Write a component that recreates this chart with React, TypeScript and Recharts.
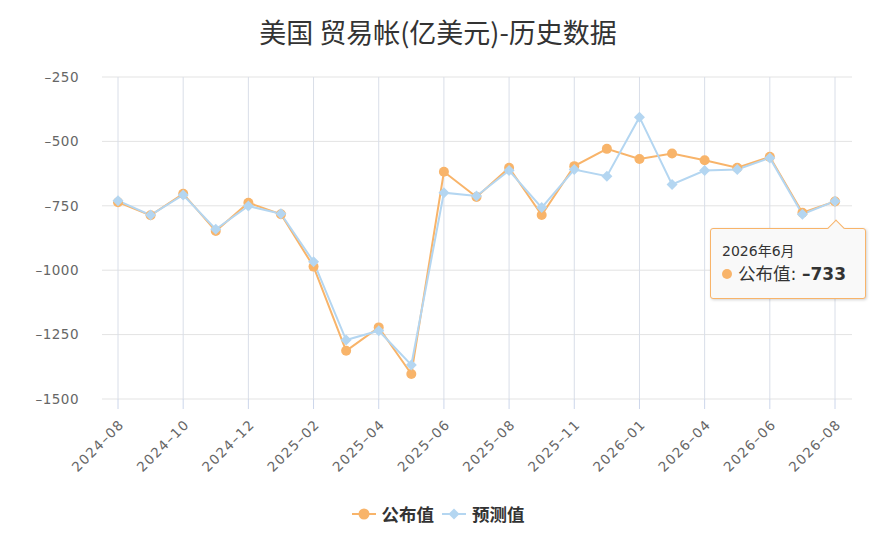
import React from 'react';
import { LineChart, Line, XAxis, YAxis, CartesianGrid, Tooltip } from 'recharts';

document.body.style.margin = '0';

const months = [
  '2024-08', '2024-09', '2024-10', '2024-11', '2024-12', '2025-01', '2025-02', '2025-03',
  '2025-04', '2025-05', '2025-06', '2025-07', '2025-08', '2025-09', '2025-11', '2025-12',
  '2026-01', '2026-03', '2026-04', '2026-05', '2026-06', '2026-07', '2026-08',
];
const released = [
  -736, -787, -703, -848, -738, -783, -986, -1313, -1222, -1403, -618, -716,
  -602, -786, -596, -529, -568, -547, -573, -602, -560, -777, -733,
];
const forecast = [
  -730, -786, -708, -841, -751, -781, -967, -1271, -1235, -1368, -699, -712,
  -613, -757, -609, -635, -406, -667, -613, -609, -564, -783, -732,
];
const yTicks = [-250, -500, -750, -1000, -1250, -1500];
const tooltipTitle = '2026年6月';

const ORANGE = '#f8b46a';
const BLUE = '#b4d6f1';
const FONT = '"Noto Sans CJK SC", "Noto Sans", sans-serif';
const TICK_FONT = '"DejaVu Sans", sans-serif';
const MIXED_FONT = '"DejaVu Sans", "Noto Sans CJK SC", sans-serif';

const data = months.map((month, i) => ({ month, released: released[i], forecast: forecast[i] }));

// Highcharts-style minus shown as an en dash
const fmt = (v: number) => (v < 0 ? '\u2013' + Math.abs(v) : String(v));

const XTick = ({ x, y, payload }: any) => (
  <g transform={`translate(${x},${y})`}>
    <text
      x={-5}
      y={0}
      dy={15}
      textAnchor="end"
      transform="rotate(-45)"
      fill="#666"
      fontSize={13.5}
      letterSpacing={1.3}
      fontFamily={TICK_FONT}
    >
      {payload.value.replace('-', '\u2013')}
    </text>
  </g>
);

const Diamond = ({ cx, cy }: any) => {
  if (cx == null || cy == null) return null;
  const r = 5.5;
  return <path d={`M${cx},${cy - r}L${cx + r},${cy}L${cx},${cy + r}L${cx - r},${cy}Z`} fill={BLUE} />;
};

const TipBox = ({ payload }: any) => {
  const item = (payload || []).find((p: any) => p.dataKey === 'released');
  if (!item) return null;
  return (
    <div
      style={{
        position: 'relative',
        width: 156,
        height: 71,
        boxSizing: 'border-box',
        background: '#f9f9f9',
        border: `1px solid ${ORANGE}`,
        borderRadius: 3,
        boxShadow: '1px 1px 3px rgba(0,0,0,0.18)',
        padding: '12px 11px',
        fontFamily: MIXED_FONT,
        color: '#333',
      }}
    >
      <div
        style={{
          position: 'absolute',
          left: 119,
          top: -7,
          width: 11,
          height: 11,
          background: '#f9f9f9',
          borderTop: `1px solid ${ORANGE}`,
          borderLeft: `1px solid ${ORANGE}`,
          transform: 'rotate(45deg)',
        }}
      />
      <div style={{ fontSize: 14, lineHeight: '20px' }}>{tooltipTitle}</div>
      <div style={{ fontSize: 17.5, lineHeight: '26px', whiteSpace: 'nowrap', display: 'flex', alignItems: 'center' }}>
        <span
          style={{
            display: 'inline-block',
            width: 10,
            height: 10,
            borderRadius: 5,
            background: ORANGE,
            marginRight: 6,
          }}
        />
        <span>{item.name}:&nbsp;</span>
        <b style={{ fontSize: 17 }}>{fmt(item.value)}</b>
      </div>
    </div>
  );
};

const LegendBox = () => (
  <div
    style={{
      position: 'absolute',
      top: 501,
      left: 0,
      width: 876,
      display: 'flex',
      justifyContent: 'center',
      alignItems: 'center',
      fontFamily: FONT,
      fontSize: 17.5,
      fontWeight: 700,
      color: '#333',
    }}
  >
    <svg width={24} height={14} style={{ marginRight: 6 }}>
      <line x1={0} y1={7} x2={24} y2={7} stroke={ORANGE} strokeWidth={2} />
      <circle cx={12} cy={7} r={5.5} fill={ORANGE} />
    </svg>
    <span style={{ marginRight: 8 }}>公布值</span>
    <svg width={24} height={14} style={{ marginRight: 6 }}>
      <line x1={0} y1={7} x2={24} y2={7} stroke={BLUE} strokeWidth={2} />
      <path d="M12,1.5L17.5,7L12,12.5L6.5,7Z" fill={BLUE} />
    </svg>
    <span>预测值</span>
  </div>
);

export default function App() {
  return (
    <div style={{ position: 'relative', width: 876, height: 549, background: '#fff' }}>
      <div
        style={{
          position: 'absolute',
          top: 12,
          left: 0,
          width: 876,
          textAlign: 'center',
          fontFamily: FONT,
          fontSize: 27,
          color: '#333',
          lineHeight: '40px',
        }}
      >
        美国 贸易帐(亿美元)-历史数据
      </div>
      <LineChart width={876} height={549} data={data} margin={{ top: 77, right: 24, bottom: 80, left: 0 }}>
        <CartesianGrid stroke="#e3e3e3" vertical={false} />
        <CartesianGrid stroke="#d9dee8" horizontal={false} syncWithTicks />
        <XAxis
          dataKey="month"
          interval={1}
          padding={{ left: 16, right: 17 }}
          axisLine={false}
          tickSize={10}
          tickLine={{ stroke: '#ccd6eb' }}
          tick={<XTick />}
          height={70}
        />
        <YAxis
          domain={[-1500, -250]}
          ticks={yTicks}
          width={102}
          axisLine={false}
          tickLine={false}
          tickSize={0}
          tickMargin={23}
          tickFormatter={fmt}
          tick={{ fill: '#666', fontSize: 13.5, fontFamily: TICK_FONT, letterSpacing: 0.5 }}
        />
        <Tooltip
          defaultIndex={22}
          active
          cursor={false}
          position={{ x: 710, y: 228 }}
          content={<TipBox />}
          wrapperStyle={{ outline: 'none' }}
          isAnimationActive={false}
        />
        <Line
          name="公布值"
          dataKey="released"
          stroke={ORANGE}
          strokeWidth={2}
          dot={{ r: 5, fill: ORANGE, stroke: ORANGE, strokeWidth: 0 }}
          activeDot={false}
          isAnimationActive={false}
        />
        <Line
          name="预测值"
          dataKey="forecast"
          stroke={BLUE}
          strokeWidth={2}
          dot={<Diamond />}
          activeDot={false}
          isAnimationActive={false}
        />
      </LineChart>
      <LegendBox />
    </div>
  );
}
